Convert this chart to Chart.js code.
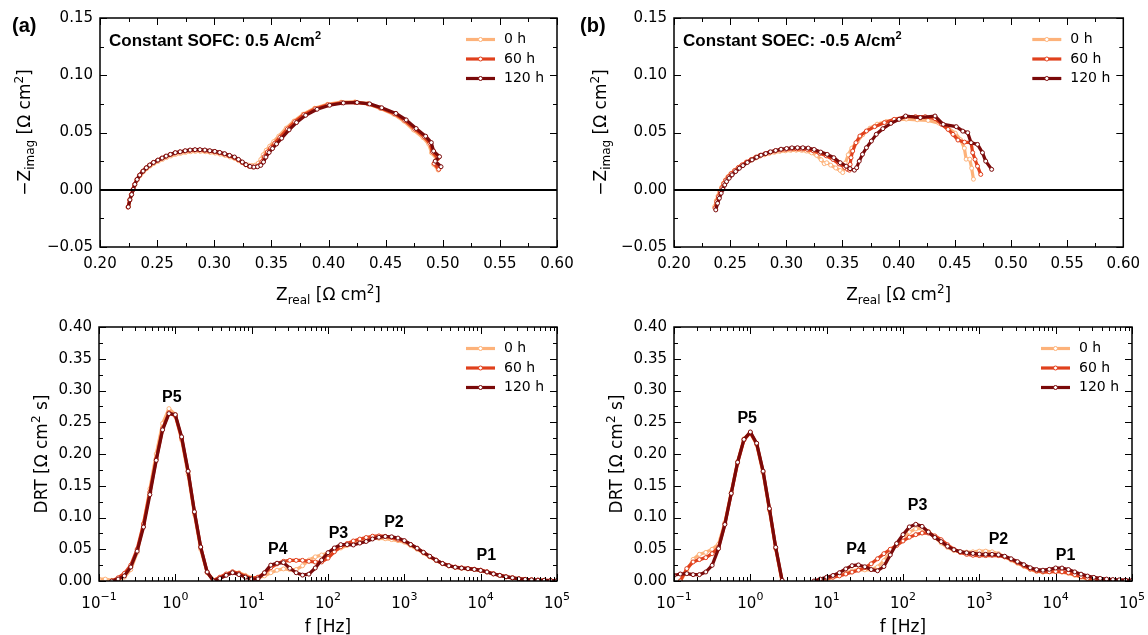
<!DOCTYPE html>
<html>
<head>
<meta charset="utf-8">
<script src="https://cdn.jsdelivr.net/npm/chart.js@4/dist/chart.umd.min.js"></script>
<style>
  html, body { margin: 0; padding: 0; background: #fff; }
  #wrap { position: relative; width: 1148px; height: 635px; overflow: hidden; }
  #wrap canvas { position: absolute; left: 0; top: 0; }
</style>
</head>
<body>
<div id="wrap">
  <canvas id="nyqA" width="1148" height="635"></canvas>
  <canvas id="nyqB" width="1148" height="635"></canvas>
  <canvas id="drtA" width="1148" height="635"></canvas>
  <canvas id="drtB" width="1148" height="635"></canvas>
</div>
<script>
// ---------- series ----------
const seriesLabels = ['0 h', '60 h', '120 h'];
const seriesColors = ['#fdb27a', '#e0401c', '#7a0909'];

// ---------- Nyquist, constant SOFC 0.5 A/cm2: [Zreal, -Zimag] in Ohm cm2 ----------
const nyqA_0h = [
  [0.2250,-0.0145],[0.2263,-0.0085],[0.2277,-0.0040],[0.2291,0.0002],[0.2306,0.0043],[0.2326,0.0085],
  [0.2350,0.0122],[0.2379,0.0156],[0.2408,0.0184],[0.2438,0.0207],[0.2472,0.0229],[0.2510,0.0248],
  [0.2547,0.0265],[0.2582,0.0281],[0.2619,0.0295],[0.2662,0.0309],[0.2705,0.0318],[0.2749,0.0326],
  [0.2792,0.0332],[0.2835,0.0335],[0.2878,0.0335],[0.2921,0.0332],[0.2964,0.0326],[0.3008,0.0320],
  [0.3051,0.0311],[0.3094,0.0300],[0.3137,0.0286],[0.3180,0.0272],[0.3213,0.0254],[0.3245,0.0236],
  [0.3275,0.0222],[0.3300,0.0215],[0.3328,0.0212],[0.3358,0.0215],[0.3385,0.0232],[0.3408,0.0265],
  [0.3428,0.0305],[0.3455,0.0345],[0.3485,0.0380],[0.3520,0.0420],[0.3565,0.0468],[0.3630,0.0538],
  [0.3698,0.0600],[0.3778,0.0660],[0.3878,0.0712],[0.3990,0.0746],[0.4110,0.0765],[0.4230,0.0767],
  [0.4342,0.0752],[0.4450,0.0712],[0.4570,0.0660],[0.4660,0.0600],[0.4745,0.0522],[0.4828,0.0455],
  [0.4878,0.0398],[0.4902,0.0322],[0.4950,0.0268],[0.4920,0.0222],[0.4960,0.0172]
];
const nyqA_60h = [
  [0.2245,-0.0152],[0.2259,-0.0090],[0.2273,-0.0044],[0.2288,0.0001],[0.2302,0.0045],[0.2322,0.0088],
  [0.2345,0.0126],[0.2374,0.0161],[0.2403,0.0190],[0.2432,0.0214],[0.2466,0.0237],[0.2504,0.0257],
  [0.2541,0.0275],[0.2576,0.0292],[0.2613,0.0306],[0.2656,0.0321],[0.2699,0.0330],[0.2743,0.0338],
  [0.2786,0.0344],[0.2829,0.0347],[0.2872,0.0347],[0.2915,0.0344],[0.2958,0.0338],[0.3002,0.0332],
  [0.3045,0.0323],[0.3088,0.0312],[0.3131,0.0297],[0.3174,0.0282],[0.3209,0.0262],[0.3243,0.0240],
  [0.3275,0.0218],[0.3305,0.0205],[0.3338,0.0199],[0.3368,0.0202],[0.3395,0.0215],[0.3418,0.0245],
  [0.3438,0.0288],[0.3465,0.0330],[0.3495,0.0366],[0.3530,0.0407],[0.3575,0.0458],[0.3640,0.0530],
  [0.3705,0.0594],[0.3785,0.0656],[0.3885,0.0708],[0.3995,0.0742],[0.4115,0.0760],[0.4235,0.0763],
  [0.4348,0.0750],[0.4455,0.0714],[0.4578,0.0664],[0.4668,0.0605],[0.4755,0.0530],[0.4838,0.0462],
  [0.4888,0.0405],[0.4910,0.0330],[0.4958,0.0275],[0.4925,0.0230],[0.4965,0.0178]
];
const nyqA_120h = [
  [0.2248,-0.0150],[0.2262,-0.0088],[0.2277,-0.0042],[0.2291,0.0003],[0.2305,0.0047],[0.2325,0.0090],
  [0.2348,0.0128],[0.2377,0.0163],[0.2406,0.0192],[0.2435,0.0216],[0.2469,0.0239],[0.2507,0.0259],
  [0.2544,0.0277],[0.2579,0.0294],[0.2616,0.0309],[0.2659,0.0324],[0.2702,0.0332],[0.2746,0.0341],
  [0.2789,0.0347],[0.2832,0.0350],[0.2875,0.0350],[0.2918,0.0347],[0.2961,0.0341],[0.3005,0.0335],
  [0.3048,0.0326],[0.3091,0.0315],[0.3134,0.0300],[0.3177,0.0286],[0.3212,0.0265],[0.3246,0.0242],
  [0.3278,0.0219],[0.3313,0.0204],[0.3347,0.0198],[0.3379,0.0201],[0.3407,0.0213],[0.3431,0.0242],
  [0.3452,0.0285],[0.3480,0.0325],[0.3510,0.0360],[0.3545,0.0400],[0.3590,0.0450],[0.3655,0.0523],
  [0.3720,0.0587],[0.3800,0.0650],[0.3900,0.0703],[0.4010,0.0738],[0.4130,0.0758],[0.4250,0.0762],
  [0.4360,0.0750],[0.4466,0.0716],[0.4590,0.0667],[0.4680,0.0610],[0.4767,0.0535],[0.4850,0.0468],
  [0.4900,0.0412],[0.4920,0.0338],[0.4972,0.0289],[0.4934,0.0250],[0.4985,0.0201]
];

// ---------- Nyquist, constant SOEC -0.5 A/cm2 ----------
const nyqB_0h = [
  [0.2362,-0.0147],[0.2377,-0.0095],[0.2392,-0.0053],[0.2408,-0.0013],[0.2424,0.0022],[0.2440,0.0057],
  [0.2457,0.0085],[0.2480,0.0114],[0.2506,0.0141],[0.2538,0.0167],[0.2571,0.0192],[0.2603,0.0213],
  [0.2642,0.0236],[0.2684,0.0257],[0.2726,0.0277],[0.2764,0.0292],[0.2806,0.0305],[0.2848,0.0317],
  [0.2894,0.0327],[0.2942,0.0335],[0.2991,0.0340],[0.3039,0.0344],[0.3088,0.0345],[0.3136,0.0344],
  [0.3180,0.0338],[0.3225,0.0322],[0.3270,0.0300],[0.3310,0.0262],[0.3338,0.0228],[0.3360,0.0236],
  [0.3395,0.0215],[0.3440,0.0190],[0.3480,0.0168],[0.3502,0.0150],[0.3525,0.0232],[0.3551,0.0305],
  [0.3583,0.0363],[0.3632,0.0421],[0.3680,0.0480],[0.3745,0.0538],[0.3809,0.0573],[0.3890,0.0596],
  [0.3971,0.0611],[0.4068,0.0617],[0.4165,0.0611],[0.4262,0.0605],[0.4359,0.0582],[0.4439,0.0538],
  [0.4504,0.0494],[0.4552,0.0436],[0.4585,0.0363],[0.4601,0.0267],[0.4633,0.0267],[0.4650,0.0188],
  [0.4666,0.0092]
];
const nyqB_60h = [
  [0.2365,-0.0160],[0.2380,-0.0105],[0.2395,-0.0062],[0.2411,-0.0020],[0.2427,0.0016],[0.2443,0.0053],
  [0.2460,0.0082],[0.2483,0.0112],[0.2509,0.0140],[0.2541,0.0168],[0.2574,0.0195],[0.2606,0.0217],
  [0.2645,0.0242],[0.2687,0.0264],[0.2729,0.0285],[0.2767,0.0301],[0.2809,0.0314],[0.2851,0.0327],
  [0.2897,0.0338],[0.2945,0.0347],[0.2994,0.0352],[0.3042,0.0356],[0.3091,0.0357],[0.3139,0.0356],
  [0.3187,0.0352],[0.3240,0.0340],[0.3298,0.0318],[0.3356,0.0296],[0.3415,0.0265],[0.3470,0.0225],
  [0.3520,0.0195],[0.3545,0.0178],[0.3562,0.0171],[0.3568,0.0221],[0.3576,0.0280],[0.3591,0.0338],
  [0.3620,0.0411],[0.3655,0.0469],[0.3713,0.0513],[0.3786,0.0551],[0.3873,0.0586],[0.3960,0.0615],
  [0.4062,0.0638],[0.4150,0.0638],[0.4237,0.0638],[0.4324,0.0621],[0.4383,0.0571],[0.4440,0.0527],
  [0.4484,0.0484],[0.4528,0.0434],[0.4586,0.0416],[0.4645,0.0411],[0.4659,0.0324],[0.4680,0.0265],
  [0.4702,0.0206],[0.4731,0.0134]
];
const nyqB_120h = [
  [0.2372,-0.0176],[0.2388,-0.0118],[0.2404,-0.0074],[0.2420,-0.0030],[0.2436,0.0004],[0.2452,0.0042],
  [0.2468,0.0071],[0.2491,0.0101],[0.2517,0.0130],[0.2549,0.0159],[0.2582,0.0188],[0.2614,0.0211],
  [0.2653,0.0238],[0.2695,0.0261],[0.2737,0.0284],[0.2775,0.0302],[0.2817,0.0316],[0.2859,0.0331],
  [0.2905,0.0343],[0.2953,0.0354],[0.3002,0.0360],[0.3050,0.0366],[0.3099,0.0367],[0.3147,0.0367],
  [0.3195,0.0364],[0.3248,0.0352],[0.3306,0.0329],[0.3364,0.0309],[0.3423,0.0280],[0.3480,0.0236],
  [0.3533,0.0206],[0.3567,0.0184],[0.3606,0.0171],[0.3626,0.0192],[0.3649,0.0250],[0.3678,0.0309],
  [0.3713,0.0367],[0.3757,0.0425],[0.3801,0.0484],[0.3859,0.0533],[0.3931,0.0580],[0.4004,0.0615],
  [0.4062,0.0644],[0.4193,0.0630],[0.4324,0.0644],[0.4397,0.0571],[0.4513,0.0551],[0.4571,0.0512],
  [0.4615,0.0498],[0.4645,0.0411],[0.4702,0.0396],[0.4746,0.0324],[0.4775,0.0250],[0.4828,0.0178]
];

// ---------- DRT: frequency grid (Hz) and values (Ohm cm2 s) ----------
const freq = [
  0.1,0.121,0.147,0.178,0.215,0.261,0.316,0.383,0.464,0.562,0.681,0.825,
  1,1.21,1.47,1.78,2.15,2.61,3.16,3.83,4.64,5.62,6.81,8.25,
  10,12.1,14.7,17.8,21.5,26.1,31.6,38.3,46.4,56.2,68.1,82.5,
  100,121,147,178,215,261,316,383,464,562,681,825,
  1000,1210,1470,1780,2150,2610,3160,3830,4640,5620,6810,8250,
  10000,12100,14700,17800,21500,26100,31600,38300,46400,56200,68100,82500,100000
];
const drtA_0h = [
  0.003,0.003,0.001,0.002,0.006,0.018,0.045,0.090,0.145,0.200,0.248,0.2715,
  0.262,0.222,0.168,0.105,0.050,0.013,0.001,0.005,0.010,0.014,0.013,0.009,
  0.005,0.005,0.008,0.013,0.017,0.019,0.018,0.018,0.024,0.033,0.038,0.041,
  0.044,0.048,0.052,0.056,0.060,0.063,0.0655,0.067,0.0672,0.0665,0.0652,0.0635,
  0.0612,0.0558,0.050,0.044,0.038,0.032,0.027,0.0236,0.0213,0.0200,0.0191,0.018,
  0.0164,0.014,0.011,0.0086,0.0064,0.0048,0.0034,0.0024,0.0017,0.0012,0.001,0.0007,0.0004
];
const drtA_60h = [
  null,null,0.000,0.005,0.012,0.025,0.050,0.090,0.140,0.192,0.240,0.265,
  0.260,0.225,0.172,0.108,0.053,0.014,0.001,0.006,0.011,0.0145,0.012,0.0075,
  0.004,0.006,0.012,0.021,0.027,0.031,0.0325,0.0325,0.0325,0.031,0.0299,0.030,
  0.036,0.046,0.054,0.059,0.063,0.066,0.0685,0.0705,0.071,0.0703,0.0685,0.0655,
  0.063,0.0575,0.0515,0.045,0.0388,0.0328,0.0278,0.0243,0.022,0.0207,0.0198,0.0186,
  0.0171,0.0146,0.0115,0.009,0.0068,0.0051,0.0036,0.0026,0.0019,0.0014,0.0011,0.0008,0.0005
];
const drtA_120h = [
  null,null,0.000,0.003,0.008,0.022,0.047,0.085,0.136,0.190,0.238,0.2636,
  0.262,0.227,0.173,0.109,0.0535,0.0142,0.000,0.004,0.009,0.0131,0.0101,0.0061,
  0.003,0.0033,0.013,0.025,0.028,0.029,0.020,0.013,0.0093,0.0108,0.0205,0.033,
  0.0446,0.052,0.0573,0.0573,0.0567,0.0597,0.0622,0.0662,0.0688,0.0701,0.0696,0.0676,
  0.0636,0.0575,0.0516,0.0452,0.039,0.0328,0.0276,0.024,0.0216,0.0203,0.0194,0.0182,
  0.0167,0.0142,0.0111,0.0088,0.0066,0.005,0.0035,0.0025,0.0018,0.0013,0.0011,0.0008,0.0005
];
const drtB_0h = [
  null,0.000,0.016,0.034,0.042,0.045,0.050,0.058,0.092,0.140,0.188,0.224,
  0.234,0.215,0.170,0.111,0.051,-0.002,-0.048,-0.070,-0.060,-0.030,-0.002,0.002,
  0.003,0.006,0.009,0.012,0.016,0.018,0.0175,0.018,0.022,0.032,0.045,0.058,
  0.068,0.077,0.082,0.083,0.078,0.069,0.060,0.053,0.048,0.046,0.0455,0.046,
  0.047,0.047,0.046,0.043,0.038,0.033,0.028,0.023,0.018,0.015,0.014,0.0145,
  0.015,0.014,0.012,0.009,0.006,0.003,0.001,-0.001,-0.002,-0.003,-0.003,-0.003,-0.003
];
const drtB_60h = [
  null,0.000,0.0195,0.030,0.0337,0.0368,0.043,0.053,0.090,0.138,0.186,0.222,
  0.2335,0.216,0.172,0.113,0.052,0.000,-0.046,-0.070,-0.060,-0.030,-0.002,0.002,
  0.004,0.006,0.008,0.011,0.014,0.017,0.021,0.027,0.035,0.043,0.050,0.056,
  0.063,0.069,0.073,0.0755,0.0755,0.071,0.065,0.057,0.050,0.045,0.042,0.0405,
  0.040,0.040,0.0405,0.040,0.038,0.034,0.029,0.024,0.019,0.016,0.0145,0.0145,
  0.015,0.0145,0.013,0.010,0.007,0.004,0.002,0.0005,-0.001,-0.002,-0.003,-0.003,-0.003
];
const drtB_120h = [
  0.009,0.011,0.0116,0.010,0.010,0.0142,0.0247,0.051,0.089,0.138,0.187,0.223,
  0.2347,0.217,0.173,0.114,0.053,0.001,-0.050,-0.070,-0.060,-0.030,0.000,0.003,
  0.006,0.0087,0.013,0.019,0.0241,0.0253,0.0224,0.018,0.0161,0.0228,0.041,0.059,
  0.073,0.0852,0.0893,0.086,0.0772,0.0686,0.062,0.0546,0.0492,0.0463,0.0445,0.0434,
  0.0424,0.042,0.042,0.0413,0.039,0.035,0.0305,0.0257,0.0209,0.018,0.017,0.0184,
  0.0205,0.0204,0.018,0.0143,0.0108,0.0078,0.0057,0.0041,0.003,0.0023,0.0018,0.0013,0.0009
];

// ---------- peak labels (text, f in Hz, DRT value at text centre) ----------
const peaksA = [['P5',0.9,0.292],['P4',22,0.0526],['P3',137,0.0772],['P2',731,0.094],['P1',11860,0.0422]];
const peaksB = [['P5',0.91,0.258],['P4',24.3,0.0526],['P3',155,0.121],['P2',1780,0.0683],['P1',13500,0.042]];

// ---------- axis ticks ----------
const nyqXTicks = [0.20,0.25,0.30,0.35,0.40,0.45,0.50,0.55,0.60];
const nyqXLabels = ['0.20','0.25','0.30','0.35','0.40','0.45','0.50','0.55','0.60'];
const nyqYTicks = [-0.05,0,0.05,0.10,0.15];
const nyqYLabels = ['\u22120.05','0.00','0.05','0.10','0.15'];
const drtYTicks = [0,0.05,0.10,0.15,0.20,0.25,0.30,0.35,0.40];
const drtYLabels = ['0.00','0.05','0.10','0.15','0.20','0.25','0.30','0.35','0.40'];
const drtXTicks = [0.1,1,10,100,1000,10000,100000];
const drtXExp = ['\u22121','0','1','2','3','4','5'];

// ---------- layout ----------
const W = 1148, H = 635;
const FONT = "'DejaVu Sans'";
const BOLD = "'Liberation Sans', Arial, sans-serif";

function midpoints(v) { const m = []; for (let i = 0; i < v.length - 1; i++) m.push((v[i] + v[i + 1]) / 2); return m; }
function logMinors(lo, hi) { const m = []; for (let e = lo; e < hi; e++) for (let k = 2; k <= 9; k++) m.push(k * Math.pow(10, e)); return m; }

const SUB = 12;
const titleZ = [{t:'Z', size:17},{t:'real', size:SUB, dy:4},{t:' [\u03A9 cm', size:17},{t:'2', size:SUB, dy:-7},{t:']', size:17}];
const titleZi = [{t:'\u2212Z', size:17},{t:'imag', size:SUB, dy:4},{t:' [\u03A9 cm', size:17},{t:'2', size:SUB, dy:-7},{t:']', size:17}];
const titleDRT = [{t:'DRT [\u03A9 cm', size:17},{t:'2', size:SUB, dy:-7},{t:' s]', size:17}];
const titleF = [{t:'f [Hz]', size:17}];

const PANELS = {
  nyqA: { area:{left:100, top:18, right:557, bottom:247}, log:false, zero:true,
          xMaj:nyqXTicks, xMin:midpoints(nyqXTicks), yMaj:nyqYTicks, yMin:midpoints(nyqYTicks),
          tag:'(a)', tagX:12, note:'Constant SOFC: 0.5 A/cm', xTitle:titleZ, yTitle:titleZi, yTitleDx:-70, xTitleDy:53 },
  nyqB: { area:{left:674, top:18, right:1132, bottom:247}, log:false, zero:true,
          xMaj:nyqXTicks, xMin:midpoints(nyqXTicks), yMaj:nyqYTicks, yMin:midpoints(nyqYTicks),
          tag:'(b)', tagX:580, note:'Constant SOEC: -0.5 A/cm', xTitle:titleZ, yTitle:titleZi, yTitleDx:-68, xTitleDy:53 },
  drtA: { area:{left:99, top:327, right:557, bottom:581}, log:true, zero:false,
          xMaj:drtXTicks, xMin:logMinors(-1,5), yMaj:drtYTicks, yMin:midpoints(drtYTicks),
          peaks:peaksA, xTitle:titleF, yTitle:titleDRT, yTitleDx:-52, xTitleDy:51 },
  drtB: { area:{left:674, top:327, right:1132, bottom:581}, log:true, zero:false,
          xMaj:drtXTicks, xMin:logMinors(-1,5), yMaj:drtYTicks, yMin:midpoints(drtYTicks),
          peaks:peaksB, xTitle:titleF, yTitle:titleDRT, yTitleDx:-52, xTitleDy:51 }
};

function runs(ctx, list, x, y, align, rotate, family, weight) {
  ctx.save();
  ctx.translate(x, y);
  if (rotate) ctx.rotate(-Math.PI / 2);
  const fam = family || FONT, wt = weight || 'normal';
  let total = 0;
  const widths = list.map(r => { ctx.font = wt + ' ' + r.size + 'px ' + fam; const w = ctx.measureText(r.t).width; total += w; return w; });
  let cx = align === 'center' ? -total / 2 : 0;
  ctx.textAlign = 'left';
  ctx.textBaseline = 'alphabetic';
  ctx.fillStyle = '#000';
  list.forEach((r, i) => { ctx.font = wt + ' ' + r.size + 'px ' + fam; ctx.fillText(r.t, cx, r.dy || 0); cx += widths[i]; });
  ctx.restore();
}

const decor = {
  id: 'decor',
  afterDatasetsDraw(chart) {
    const p = PANELS[chart.canvas.id];
    const ctx = chart.ctx, a = chart.chartArea, xs = chart.scales.x, ys = chart.scales.y;
    ctx.save();
    ctx.strokeStyle = '#000';
    if (p.zero) {
      const y0 = Math.round(ys.getPixelForValue(0));
      ctx.lineWidth = 2;
      ctx.beginPath(); ctx.moveTo(a.left, y0); ctx.lineTo(a.right, y0); ctx.stroke();
    }
    // inward ticks on all four sides
    ctx.lineWidth = 1;
    const xt = (vals, len) => vals.forEach(v => {
      const px = Math.round(xs.getPixelForValue(v)) + 0.5;
      if (px < a.left - 1 || px > a.right + 1) return;
      ctx.beginPath();
      ctx.moveTo(px, a.bottom); ctx.lineTo(px, a.bottom - len);
      ctx.moveTo(px, a.top); ctx.lineTo(px, a.top + len);
      ctx.stroke();
    });
    const yt = (vals, len) => vals.forEach(v => {
      const py = Math.round(ys.getPixelForValue(v)) + 0.5;
      ctx.beginPath();
      ctx.moveTo(a.left, py); ctx.lineTo(a.left + len, py);
      ctx.moveTo(a.right, py); ctx.lineTo(a.right - len, py);
      ctx.stroke();
    });
    xt(p.xMaj, 7); xt(p.xMin, 4); yt(p.yMaj, 7); yt(p.yMin, 4);
    ctx.lineWidth = 1.5;
    ctx.strokeRect(a.left, a.top, a.right - a.left, a.bottom - a.top);
    ctx.restore();
  },
  afterDraw(chart) {
    const p = PANELS[chart.canvas.id];
    const ctx = chart.ctx, a = chart.chartArea, xs = chart.scales.x, ys = chart.scales.y;
    ctx.save();
    // log-axis labels 10^n
    if (p.log) {
      drtXTicks.forEach((v, i) => {
        runs(ctx, [{t:'10', size:15}, {t:drtXExp[i], size:11, dy:-8}], xs.getPixelForValue(v), a.bottom + 27, 'center');
      });
    }
    // axis titles
    runs(ctx, p.xTitle, (a.left + a.right) / 2, a.bottom + p.xTitleDy, 'center');
    runs(ctx, p.yTitle, a.left + p.yTitleDx, (a.top + a.bottom) / 2, 'center', true);
    // panel tag and operating condition
    if (p.tag) {
      runs(ctx, [{t:p.tag, size:20}], p.tagX, 32, 'left', false, BOLD, 'bold');
      runs(ctx, [{t:p.note, size:17}, {t:'2', size:11, dy:-7}], a.left + 9, a.top + 28, 'left', false, BOLD, 'bold');
    }
    // peak labels
    if (p.peaks) {
      p.peaks.forEach(([t, f, v]) => {
        runs(ctx, [{t, size:16}], xs.getPixelForValue(f), ys.getPixelForValue(v) + 6, 'center', false, BOLD, 'bold');
      });
    }
    // legend
    const rows = [21.5, 41, 60.5];
    chart.data.datasets.forEach((ds, i) => {
      const y = a.top + rows[i];
      const x1 = a.right - 91, x2 = a.right - 62;
      ctx.strokeStyle = ds.borderColor;
      ctx.lineWidth = 3.2;
      ctx.beginPath(); ctx.moveTo(x1, y); ctx.lineTo(x2, y); ctx.stroke();
      ctx.beginPath(); ctx.arc((x1 + x2) / 2, y, 2, 0, Math.PI * 2);
      ctx.fillStyle = '#fff'; ctx.fill();
      ctx.lineWidth = 1; ctx.stroke();
      ctx.fillStyle = '#000';
      ctx.font = '14px ' + FONT;
      ctx.textAlign = 'left';
      ctx.textBaseline = 'middle';
      ctx.fillText(ds.label, a.right - 53, y);
    });
    ctx.restore();
  }
};

function dataset(i, points) {
  return {
    label: seriesLabels[i],
    data: points,
    showLine: true,
    borderColor: seriesColors[i],
    backgroundColor: seriesColors[i],
    borderWidth: 3.2,
    borderJoinStyle: 'round',
    borderCapStyle: 'round',
    tension: 0,
    spanGaps: false,
    pointRadius: 2,
    pointBorderWidth: 1,
    pointBorderColor: seriesColors[i],
    pointBackgroundColor: '#fff',
    order: 3 - i
  };
}

function build(id, datasets) {
  const p = PANELS[id], A = p.area;
  const tickFont = { family: FONT, size: 15 };
  const x = p.log ? {
    type: 'logarithmic', min: 0.1, max: 100000,
    afterBuildTicks: s => { s.ticks = drtXTicks.map(v => ({ value: v })); },
    ticks: { display: false },
  } : {
    type: 'linear', min: 0.2, max: 0.6,
    afterBuildTicks: s => { s.ticks = nyqXTicks.map(v => ({ value: v })); },
    ticks: { callback: (v, i) => nyqXLabels[i], font: tickFont, color: '#000', padding: 8, autoSkip: false, maxRotation: 0 },
  };
  x.position = 'bottom';
  x.grid = { display: false, drawTicks: false };
  x.border = { display: false };
  x.afterFit = s => { s.height = H - A.bottom; };
  const yT = p.log ? drtYTicks : nyqYTicks, yL = p.log ? drtYLabels : nyqYLabels;
  const y = {
    type: 'linear', position: 'left',
    min: p.log ? 0 : -0.05, max: p.log ? 0.40 : 0.15,
    afterBuildTicks: s => { s.ticks = yT.map(v => ({ value: v })); },
    ticks: { callback: (v, i) => yL[i], font: tickFont, color: '#000', padding: 7, autoSkip: false },
    grid: { display: false, drawTicks: false },
    border: { display: false },
    afterFit: s => { s.width = A.left; }
  };
  return new Chart(document.getElementById(id), {
    type: 'scatter',
    data: { datasets },
    options: {
      responsive: false,
      animation: false,
      events: [],
      layout: { padding: { left: 0, top: A.top, right: W - A.right, bottom: 0 } },
      scales: { x, y },
      plugins: { legend: { display: false }, tooltip: { enabled: false }, title: { display: false } }
    },
    plugins: [decor]
  });
}

const pairs = arr => arr.map(([re, im]) => ({ x: re, y: im }));
const onGrid = vals => freq.map((f, i) => ({ x: f, y: vals[i] }));

build('nyqA', [dataset(0, pairs(nyqA_0h)), dataset(1, pairs(nyqA_60h)), dataset(2, pairs(nyqA_120h))]);
build('nyqB', [dataset(0, pairs(nyqB_0h)), dataset(1, pairs(nyqB_60h)), dataset(2, pairs(nyqB_120h))]);
build('drtA', [dataset(0, onGrid(drtA_0h)), dataset(1, onGrid(drtA_60h)), dataset(2, onGrid(drtA_120h))]);
build('drtB', [dataset(0, onGrid(drtB_0h)), dataset(1, onGrid(drtB_60h)), dataset(2, onGrid(drtB_120h))]);
</script>
</body>
</html>
